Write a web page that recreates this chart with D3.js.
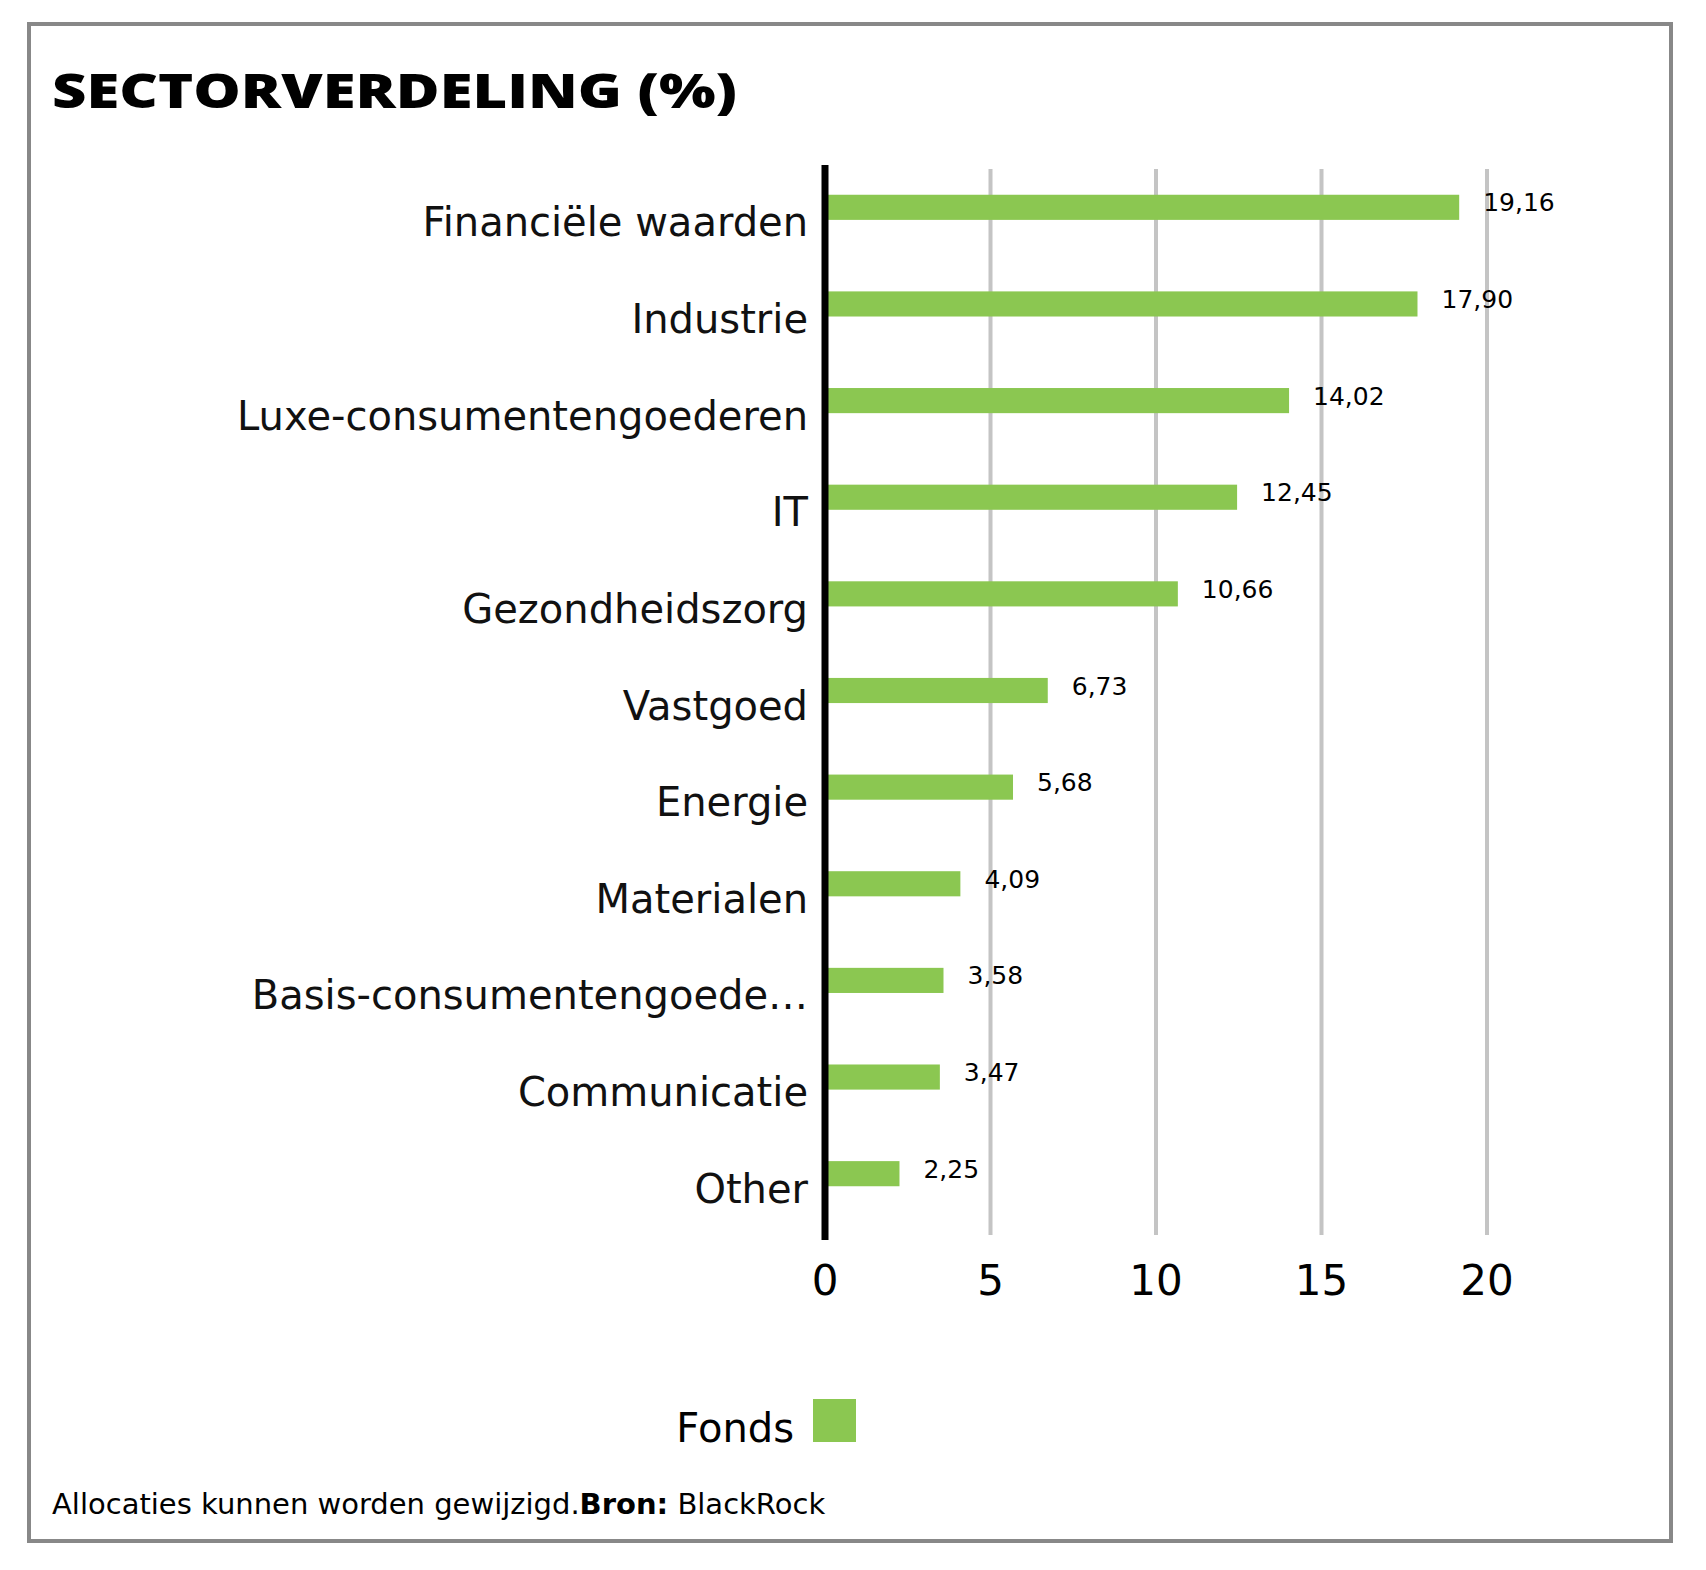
<!DOCTYPE html>
<html><head><meta charset="utf-8">
<script src="https://cdn.jsdelivr.net/npm/d3@7"></script>
<style>body{margin:0;background:#fff}svg{font-family:"DejaVu Sans",sans-serif}</style>
</head><body><svg id="c" width="1706" height="1570"></svg>
<script>
var categories = ["Financiële waarden","Industrie","Luxe-consumentengoederen","IT","Gezondheidszorg","Vastgoed","Energie","Materialen","Basis-consumentengoede…","Communicatie","Other"];
var values = [19.16,17.90,14.02,12.45,10.66,6.73,5.68,4.09,3.58,3.47,2.25];
var ticks = [0,5,10,15,20];

var svg = d3.select('#c');
svg.append('rect').attr('x',29).attr('y',24).attr('width',1642).attr('height',1517)
  .attr('fill','none').attr('stroke','#888').attr('stroke-width',4);
svg.append('text').attr('x',52).attr('y',108).attr('font-size',48).attr('font-weight',900)
  .attr('font-family','"Open Sans",sans-serif')
  .attr('textLength',685).attr('lengthAdjust','spacingAndGlyphs').text('SECTORVERDELING (%)');

var x = d3.scaleLinear().domain([0,20]).range([825,1487]);
var y = d3.scaleBand().domain(categories).range([159,1222]).paddingInner(0.74).paddingOuter(0.37);

svg.append('g').selectAll('line').data(ticks.slice(1)).join('line')
  .attr('x1',x).attr('x2',x).attr('y1',169).attr('y2',1235)
  .attr('stroke','#c4c4c4').attr('stroke-width',4);

svg.append('g').selectAll('rect').data(values).join('rect')
  .attr('x',x(0)).attr('y',(d,i)=>y(categories[i]))
  .attr('width',d=>x(d)-x(0)).attr('height',y.bandwidth()).attr('fill','#8bc751');

svg.append('g').selectAll('text').data(values).join('text')
  .attr('x',d=>x(d)+24).attr('y',(d,i)=>y(categories[i])+y.bandwidth()/2+4)
  .attr('font-size',25).text(d=>d3.format('.2f')(d).replace('.',','));

svg.append('g').selectAll('text').data(categories).join('text')
  .attr('x',808).attr('y',d=>y(d)+y.bandwidth()/2+29).attr('text-anchor','end')
  .attr('font-size',40).attr('fill','#111').text(d=>d);

svg.append('line').attr('x1',x(0)).attr('x2',x(0)).attr('y1',165).attr('y2',1240)
  .attr('stroke','#000').attr('stroke-width',7);

svg.append('g').selectAll('text').data(ticks).join('text')
  .attr('x',x).attr('y',1295).attr('text-anchor','middle').attr('font-size',42).text(d=>d);

svg.append('text').attr('x',794).attr('y',1442).attr('text-anchor','end').attr('font-size',40).text('Fonds');
svg.append('rect').attr('x',813).attr('y',1399).attr('width',43).attr('height',43).attr('fill','#8bc751');

var f = svg.append('text').attr('x',52).attr('y',1514).attr('font-size',29);
f.append('tspan').text('Allocaties kunnen worden gewijzigd.');
f.append('tspan').attr('font-weight','bold').text('Bron:');
f.append('tspan').text(' BlackRock');
</script></body></html>
